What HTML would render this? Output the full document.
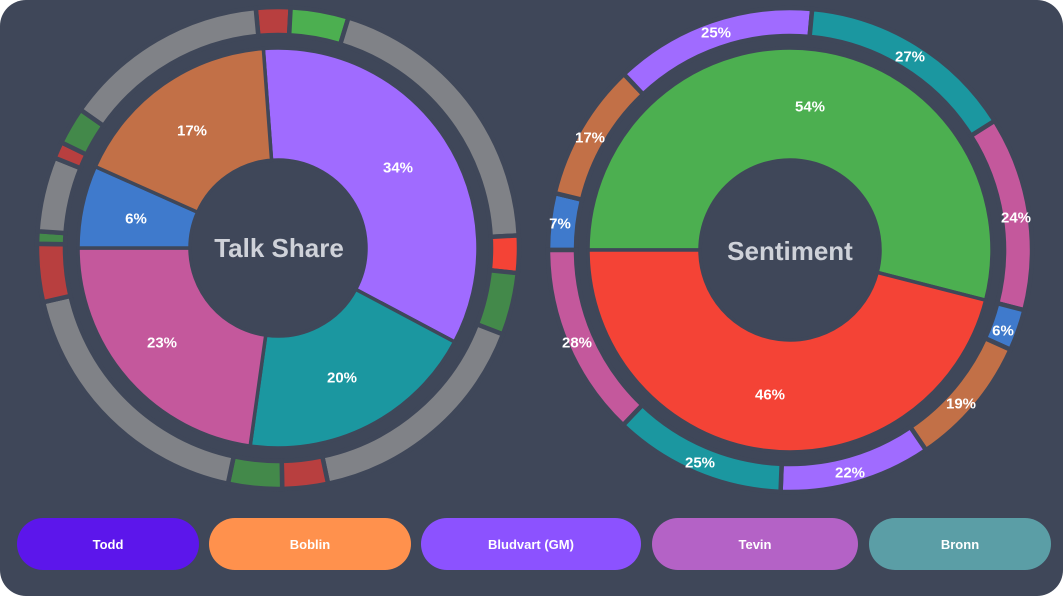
<!DOCTYPE html>
<html><head><meta charset="utf-8"><style>
html,body{margin:0;padding:0;background:#fff;}
#wrap{position:relative;width:1063px;height:596px;background:#3f4759;border-radius:26px;overflow:hidden;}
svg{position:absolute;left:0;top:0;}
.btn{position:absolute;top:518px;height:52px;border-radius:26px;color:#fff;font:bold 13px "Liberation Sans",sans-serif;display:flex;align-items:center;justify-content:center;}
</style></head><body>
<div id="wrap">
<svg id="s" width="1063" height="596" viewBox="0 0 1063 596">
<g id="g"></g>
<g font-family="Liberation Sans, sans-serif" font-weight="bold" font-size="15" fill="#fff" text-anchor="middle" dominant-baseline="central">
<text x="398" y="168">34%</text>
<text x="342" y="378">20%</text>
<text x="162" y="343">23%</text>
<text x="136" y="219">6%</text>
<text x="192" y="131">17%</text>
<text x="810" y="107">54%</text>
<text x="770" y="395">46%</text>
<text x="716" y="33">25%</text>
<text x="910" y="57">27%</text>
<text x="1016" y="218">24%</text>
<text x="1003" y="331">6%</text>
<text x="961" y="404">19%</text>
<text x="850" y="473">22%</text>
<text x="700" y="463">25%</text>
<text x="577" y="343">28%</text>
<text x="560" y="224">7%</text>
<text x="590" y="138">17%</text>
</g>
<g font-family="Liberation Sans, sans-serif" font-size="26" font-weight="600" fill="#cfd2d9" text-anchor="middle" dominant-baseline="central">
<text x="279" y="248">Talk Share</text>
<text x="790" y="251">Sentiment</text>
</g>
</svg>
<div class="btn" style="left:17px;width:182px;background:#5c16eb">Todd</div>
<div class="btn" style="left:209px;width:202px;background:#ff914d">Boblin</div>
<div class="btn" style="left:421px;width:220px;background:#8c52ff">Bludvart (GM)</div>
<div class="btn" style="left:652px;width:206px;background:#b462c6">Tevin</div>
<div class="btn" style="left:869px;width:182px;background:#5b9ea6">Bronn</div>
</div>
<script>
var g=document.getElementById('g');
function P(cx,cy,r,a){a=a*Math.PI/180;return [cx+r*Math.sin(a),cy-r*Math.cos(a)];}
function arc(cx,cy,r0,r1,a0,a1,col,sw){
 var L=(a1-a0)>180?1:0;
 var p1=P(cx,cy,r1,a0),p2=P(cx,cy,r1,a1),p3=P(cx,cy,r0,a1),p4=P(cx,cy,r0,a0);
 var d='M'+p1.join(' ')+' A'+r1+' '+r1+' 0 '+L+' 1 '+p2.join(' ')+' L'+p3.join(' ')+' A'+r0+' '+r0+' 0 '+L+' 0 '+p4.join(' ')+'Z';
 var e=document.createElementNS('http://www.w3.org/2000/svg','path');
 e.setAttribute('d',d);
 e.setAttribute('fill',col);e.setAttribute('stroke','#3f4759');e.setAttribute('stroke-width',sw||3);
 g.appendChild(e);
}
// left pie
var cx=278,cy=248;
[[-4.2,118,'#a06bff'],[118,188,'#1b97a0'],[188,270,'#c4589c'],[270,294,'#3f7acc'],[294,355.8,'#c27047']].forEach(function(s){arc(cx,cy,88,200,s[0],s[1],s[2],3.5);});
// left ring
var GR='#808287',RD='#b83f3f',GN='#43894a';
[[-5.3,3,RD],[3,17,'#4caf50'],[17,87,GR],[87,96,'#f44336'],[96,111,GN],[111,168,GR],[168,179,RD],[179,192,GN],[192,257,GR],[257,271,RD],[271,274,GN],[274,292,GR],[292,296,RD],[296,305,GN],[305,354.7,GR]].forEach(function(s){arc(cx,cy,213,241,s[0],s[1],s[2],4.5);});
// right pie
cx=790;cy=250;
arc(cx,cy,90,202,-90,104.4,'#4caf50',3.5);
arc(cx,cy,90,202,104.4,270,'#f44336',3.5);
var cols=['#3f7acc','#c27047','#a06bff','#1b97a0','#c4589c'];
var a=-90;[7,17,25,27,24].forEach(function(p,i){var b=a+p*1.944;arc(cx,cy,214,242,a,b,cols[i],4.5);a=b;});
a=104.4;[6,19,22,25,28].forEach(function(p,i){var b=a+p*1.656;arc(cx,cy,214,242,a,b,cols[i],4.5);a=b;});
</script>
</body></html>
